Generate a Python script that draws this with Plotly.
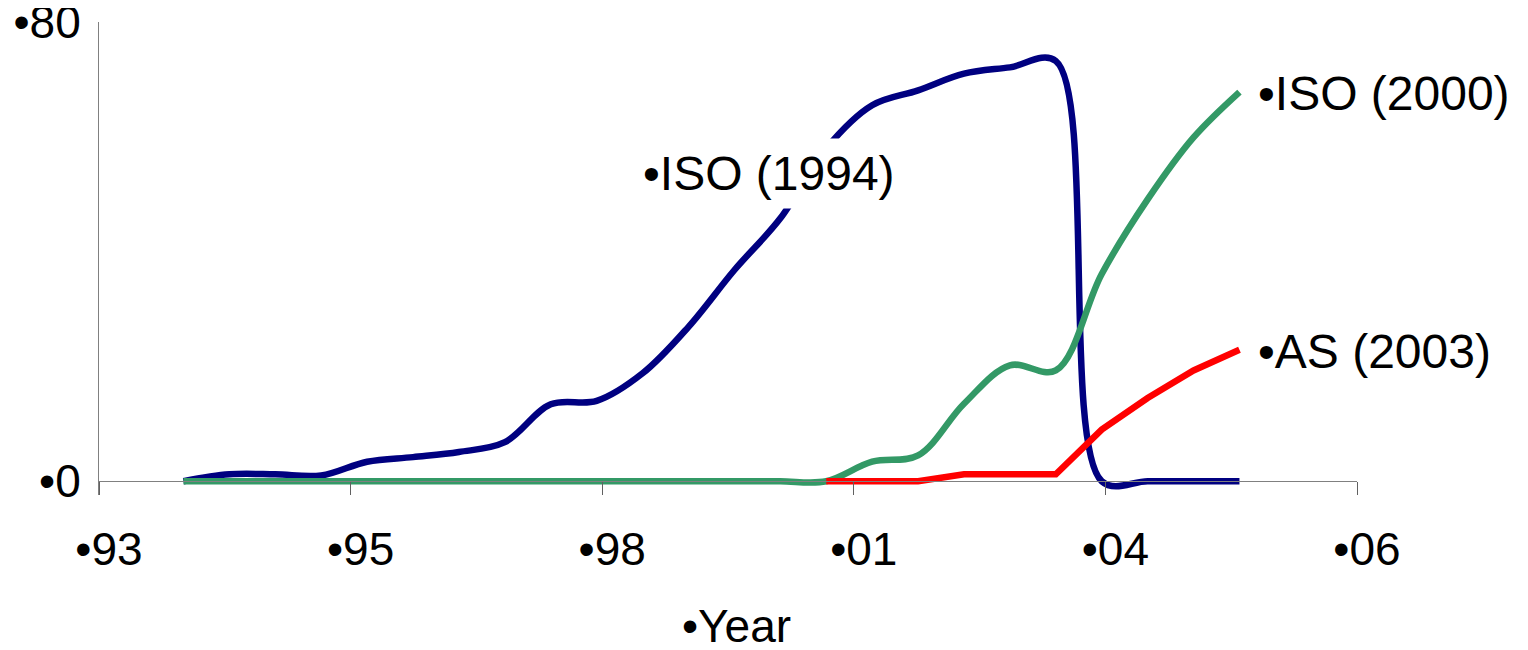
import plotly.graph_objects as go

# Half-yearly observation points
years = [1994.0, 1994.5, 1995.0, 1995.5, 1996.0, 1996.5, 1997.0, 1997.5,
         1998.0, 1998.5, 1999.0, 1999.5, 2000.0, 2000.5, 2001.0, 2001.5,
         2002.0, 2002.5, 2003.0, 2003.5, 2004.0, 2004.5, 2005.0, 2005.5]

iso_1994 = [0.0, 1.2, 1.2, 1.0, 3.4, 4.2, 5.1, 6.8,
            13.4, 14.0, 18.8, 26.9, 36.8, 45.8, 58.0, 65.5,
            68.1, 71.0, 72.1, 73.2, 0.0, 0.0, 0.0, 0.0]

iso_2000 = [0.0, 0.0, 0.0, 0.0, 0.0, 0.0, 0.0, 0.0,
            0.0, 0.0, 0.0, 0.0, 0.0, 0.0, 0.0, 3.4,
            4.5, 13.5, 20.2, 19.3, 36.1, 49.1, 59.9, 67.8]

as_2003 = [None, None, None, None, None, None, None, None,
           None, None, None, None, None, None, 0.0, 0.0,
           0.0, 1.2, 1.2, 1.2, 9.0, 14.5, 19.3, 22.9]

x_tickvals = [1993.08, 1995.82, 1998.56, 2001.30, 2004.04, 2006.78]
x_ticktext = ["•93", "•95", "•98", "•01", "•04", "•06"]
y_tickvals = [0, 80]
y_ticktext = ["•0", "•80"]

FONT = "Liberation Sans, Arial, sans-serif"
FS = 46
FS_LABEL = 48
Y_MIN = -2.4
Y_MAX = 80
LW = 6.5

fig = go.Figure()
fig.add_trace(go.Scatter(x=years, y=iso_1994, mode="lines", name="ISO (1994)",
                         line=dict(color="#000080", width=LW, shape="spline", smoothing=1.0)))
fig.add_trace(go.Scatter(x=years, y=iso_2000, mode="lines", name="ISO (2000)",
                         line=dict(color="#339966", width=LW, shape="spline", smoothing=1.0)))
fig.add_trace(go.Scatter(x=years, y=as_2003, mode="lines", name="AS (2003)",
                         line=dict(color="#FF0000", width=LW, shape="linear")))

fig.add_annotation(x=2000.38, y=53.6, xref="x", yref="y", text="•ISO (1994)",
                   showarrow=False, font=dict(family=FONT, size=FS_LABEL, color="black"),
                   bgcolor="white", borderpad=8, xanchor="center", yanchor="middle")
fig.add_annotation(x=years[-1], y=iso_2000[-1], xref="x", yref="y", text="•ISO (2000)",
                   showarrow=False, font=dict(family=FONT, size=FS_LABEL, color="black"),
                   xanchor="left", yanchor="middle", xshift=17, yshift=-1)
fig.add_annotation(x=years[-1], y=as_2003[-1], xref="x", yref="y", text="•AS (2003)",
                   showarrow=False, font=dict(family=FONT, size=FS_LABEL, color="black"),
                   xanchor="left", yanchor="middle", xshift=17, yshift=-2)
# axis title
fig.add_annotation(x=0.507, y=-0.277, xref="paper", yref="paper", text="•Year",
                   showarrow=False, font=dict(family=FONT, size=FS, color="black"),
                   xanchor="center", yanchor="middle")

fig.update_layout(
    width=1520, height=642,
    margin=dict(l=91, r=171, t=14, b=155, autoexpand=False),
    paper_bgcolor="white", plot_bgcolor="white",
    showlegend=False,
    font=dict(family=FONT, size=FS, color="black"),
    xaxis=dict(range=[x_tickvals[0], x_tickvals[-1]], tickmode="array",
               tickvals=x_tickvals, ticktext=x_ticktext,
               showgrid=False, zeroline=False, showline=True,
               linecolor="#808080", linewidth=1,
               ticks="outside", ticklen=13, tickcolor="#606060", tickwidth=1,
               anchor="free", position=(0 - Y_MIN) / (Y_MAX - Y_MIN),
               ticklabelshift=10, ticklabelstandoff=15, automargin=False),
    yaxis=dict(range=[Y_MIN, Y_MAX], tickmode="array",
               tickvals=y_tickvals, ticktext=y_ticktext,
               showgrid=False, zeroline=False, showline=True,
               linecolor="#808080", linewidth=1, ticks="",
               ticklabelstandoff=8, ticklabeloverflow="allow", automargin=False),
)

fig.write_html("out.html")
